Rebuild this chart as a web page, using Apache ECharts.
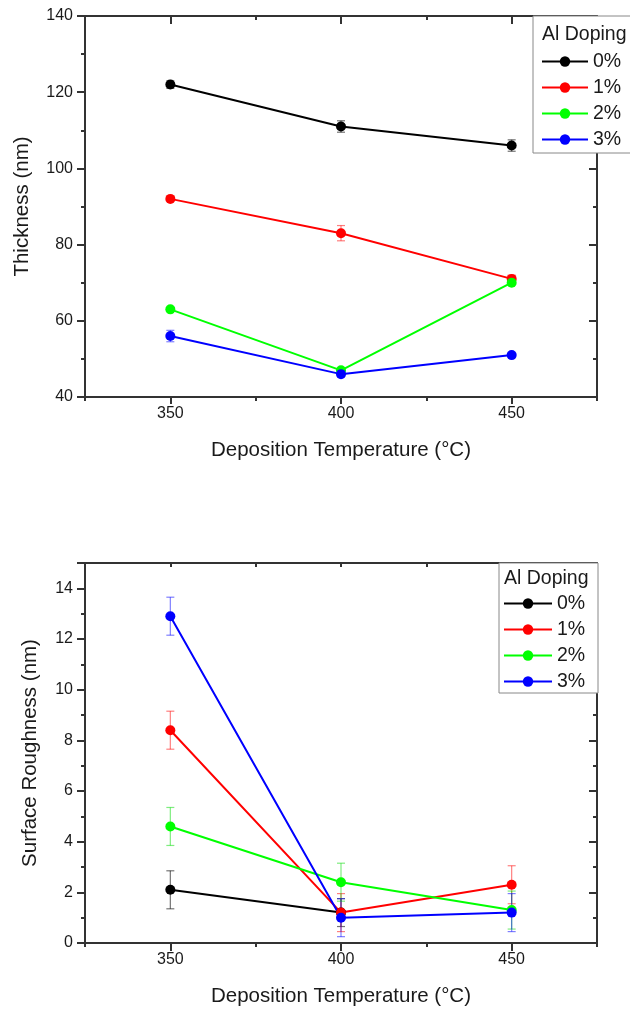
<!DOCTYPE html>
<html><head><meta charset="utf-8">
<script src="https://cdn.jsdelivr.net/npm/echarts@6/dist/echarts.min.js"></script>
<style>html,body{margin:0;padding:0;background:#fff}#c{width:630px;height:1011px}</style>
</head><body><div id="c"></div>
<script>
// ---- data ----
const temps = [350, 400, 450];
const seriesNames = ['0%', '1%', '2%', '3%'];
const xTickLabels = [350, 400, 450];

const thick0 = [122, 111, 106];
const thick1 = [92, 83, 71];
const thick2 = [63, 47, 70];
const thick3 = [56, 46, 51];
const thick0Err = [1, 1.5, 1.5];
const thick1Err = [0.5, 2, 1];
const thick2Err = [0.5, 0.5, 0.5];
const thick3Err = [1.5, 0.7, 0.5];

const rough0 = [2.1, 1.2, null];
const rough1 = [8.4, 1.2, 2.3];
const rough2 = [4.6, 2.4, 1.3];
const rough3 = [12.9, 1.0, 1.2];
const rough0Err = [0.75, 0.55, null];
const rough1Err = [0.75, 0.75, 0.75];
const rough2Err = [0.75, 0.75, 0.75];
const rough3Err = [0.75, 0.75, 0.75];

// ---- styles ----
const colors = ['#000000', '#ff0000', '#00ff00', '#0000ff'];
const errColors = ['rgba(0,0,0,0.55)', 'rgba(255,0,0,0.5)', 'rgba(0,220,0,0.5)', 'rgba(0,0,255,0.5)'];
const FONT = 'Liberation Sans, Arial, sans-serif';
const TXT = '#1a1a1a';
const AX = {color: '#333', width: 2};

const thickVals = [thick0, thick1, thick2, thick3];
const thickErrs = [thick0Err, thick1Err, thick2Err, thick3Err];
const roughVals = [rough0, rough1, rough2, rough3];
const roughErrs = [rough0Err, rough1Err, rough2Err, rough3Err];

const grids = [
  {left: 85, top: 16, width: 512, height: 381},
  {left: 85, top: 563, width: 512, height: 380}
];

function xAxesFor(g, name) {
  const base = {gridIndex: g, type: 'value', min: 325, max: 475, splitLine: {show: false}};
  return [
    Object.assign({}, base, {position: 'bottom', interval: 25,
      axisLine: {show: true, onZero: false, lineStyle: AX},
      axisTick: {show: true, length: 4, lineStyle: AX},
      axisLabel: {customValues: xTickLabels, fontSize: 16, color: TXT, fontFamily: FONT, margin: 9},
      name: name, nameLocation: 'middle', nameGap: 43,
      nameTextStyle: {fontSize: 20.5, color: TXT, fontFamily: FONT}}),
    Object.assign({}, base, {position: 'bottom',
      axisLine: {show: false},
      axisTick: {show: true, customValues: xTickLabels, length: 7, lineStyle: AX},
      axisLabel: {show: false}}),
    Object.assign({}, base, {position: 'top', interval: 25,
      axisLine: {show: true, onZero: false, lineStyle: AX},
      axisTick: {show: true, inside: true, length: 4, lineStyle: AX},
      axisLabel: {show: false}}),
    Object.assign({}, base, {position: 'top',
      axisLine: {show: false},
      axisTick: {show: true, inside: true, customValues: xTickLabels, length: 8, lineStyle: AX},
      axisLabel: {show: false}})
  ];
}

function yAxesFor(g, min, max, interval, name, gap) {
  const base = {gridIndex: g, type: 'value', min: min, max: max, interval: interval, splitLine: {show: false}};
  return [
    Object.assign({}, base, {position: 'left',
      axisLine: {show: true, onZero: false, lineStyle: AX},
      axisTick: {show: true, length: 8, lineStyle: AX},
      minorTick: {show: true, splitNumber: 2, length: 4, lineStyle: AX},
      axisLabel: {fontSize: 16, color: TXT, fontFamily: FONT, margin: 12, showMaxLabel: (max % interval === 0)},
      name: name, nameLocation: 'middle', nameGap: gap, nameRotate: 90,
      nameTextStyle: {fontSize: 20.5, color: TXT, fontFamily: FONT}}),
    Object.assign({}, base, {position: 'right',
      axisLine: {show: true, onZero: false, lineStyle: AX},
      axisTick: {show: true, inside: true, length: 8, lineStyle: AX},
      minorTick: {show: true, splitNumber: 2, length: 4, lineStyle: AX},
      axisLabel: {show: false}})
  ];
}

function errorSeries(vals, errs, i, xi, yi) {
  const data = [];
  temps.forEach((t, k) => {
    if (vals[k] != null && errs[k] != null) data.push([t, vals[k] - errs[k], vals[k] + errs[k]]);
  });
  return {
    type: 'custom', xAxisIndex: xi, yAxisIndex: yi, silent: true, z: 3,
    encode: {x: 0, y: [1, 2]},
    data: data,
    renderItem: function (params, api) {
      const x = api.value(0);
      const p1 = api.coord([x, api.value(1)]);
      const p2 = api.coord([x, api.value(2)]);
      const w = 4;
      const st = {stroke: errColors[i], lineWidth: 1.2};
      return {type: 'group', children: [
        {type: 'line', shape: {x1: p1[0], y1: p1[1], x2: p2[0], y2: p2[1]}, style: st},
        {type: 'line', shape: {x1: p1[0] - w, y1: p1[1], x2: p1[0] + w, y2: p1[1]}, style: st},
        {type: 'line', shape: {x1: p2[0] - w, y1: p2[1], x2: p2[0] + w, y2: p2[1]}, style: st}
      ]};
    }
  };
}

function lineSeries(vals, i, xi, yi) {
  const data = [];
  temps.forEach((t, k) => { if (vals[k] != null) data.push([t, vals[k]]); });
  return {
    type: 'line', name: seriesNames[i], xAxisIndex: xi, yAxisIndex: yi, z: 4,
    data: data, symbol: 'circle', symbolSize: 10, showSymbol: true,
    lineStyle: {color: colors[i], width: 2}, itemStyle: {color: colors[i]},
    emphasis: {disabled: true}, animation: false
  };
}

const series = [];
for (let i = 0; i < 4; i++) series.push(errorSeries(thickVals[i], thickErrs[i], i, 0, 0));
for (let i = 0; i < 4; i++) series.push(lineSeries(thickVals[i], i, 0, 0));
for (let i = 0; i < 4; i++) series.push(errorSeries(roughVals[i], roughErrs[i], i, 4, 2));
for (let i = 0; i < 4; i++) series.push(lineSeries(roughVals[i], i, 4, 2));

const legendBase = {
  orient: 'vertical', selectedMode: false, data: seriesNames, z: 30,
  itemHeight: 13, itemGap: 6, padding: 0,
  textStyle: {fontSize: 19.5, color: TXT, fontFamily: FONT, lineHeight: 19}
};

const option = {
  animation: false,
  backgroundColor: '#fff',
  grid: grids,
  xAxis: xAxesFor(0, 'Deposition Temperature (°C)').concat(xAxesFor(1, 'Deposition Temperature (°C)')),
  yAxis: yAxesFor(0, 40, 140, 20, 'Thickness (nm)', 52).concat(yAxesFor(1, 0, 15, 2, 'Surface Roughness (nm)', 44)),
  legend: [
    Object.assign({}, legendBase, {left: 541, top: 51.5, itemWidth: 46}),
    Object.assign({}, legendBase, {left: 503, top: 593.5, itemWidth: 48})
  ],
  graphic: [
    {type: 'rect', shape: {x: 533, y: 16, width: 110, height: 137}, style: {fill: '#fff', stroke: '#888', lineWidth: 1}, z: 10},
    {type: 'text', x: 542, y: 35, style: {text: 'Al Doping', fontSize: 19.5, fontFamily: FONT, fill: TXT, verticalAlign: 'middle'}, z: 11},
    {type: 'rect', shape: {x: 499, y: 563, width: 99, height: 130}, style: {fill: '#fff', stroke: '#888', lineWidth: 1}, z: 10},
    {type: 'text', x: 504, y: 579, style: {text: 'Al Doping', fontSize: 19.5, fontFamily: FONT, fill: TXT, verticalAlign: 'middle'}, z: 11}
  ],
  series: series
};

const chart = echarts.init(document.getElementById('c'), null, {renderer: 'canvas'});
chart.setOption(option);
</script>
</body></html>
